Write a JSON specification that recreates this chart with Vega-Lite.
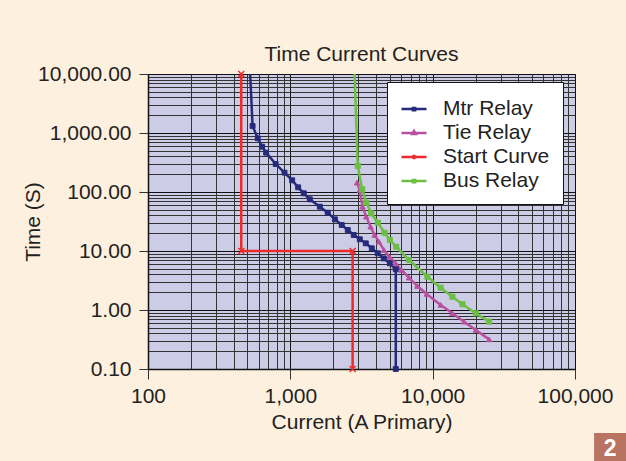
{
  "$schema": "https://vega.github.io/schema/vega-lite/v6.json",
  "width": 427,
  "height": 295,
  "autosize": {"type": "none"},
  "padding": {"left": 148, "top": 74, "right": 51, "bottom": 92},
  "background": "#FDF0DE",
  "title": {"text": "Time Current Curves", "fontSize": 21, "font": "Liberation Sans", "fontWeight": "normal", "color": "#222222", "offset": -2},
  "config": {
    "view": {"fill": "#CCCCE6", "stroke": "#555555", "strokeWidth": 1},
    "font": "Liberation Sans",
    "axis": {"labelFontSize": 21, "labelFont": "Liberation Sans"}
  },
  "data": {"values": [
    {"series": "Mtr Relay", "i": 0, "current": 522, "time": 10000},
    {"series": "Mtr Relay", "i": 1, "current": 543, "time": 1314},
    {"series": "Mtr Relay", "i": 2, "current": 590, "time": 813},
    {"series": "Mtr Relay", "i": 3, "current": 634, "time": 586},
    {"series": "Mtr Relay", "i": 4, "current": 676, "time": 464},
    {"series": "Mtr Relay", "i": 5, "current": 789, "time": 298},
    {"series": "Mtr Relay", "i": 6, "current": 910, "time": 213},
    {"series": "Mtr Relay", "i": 7, "current": 1030, "time": 158},
    {"series": "Mtr Relay", "i": 8, "current": 1135, "time": 120},
    {"series": "Mtr Relay", "i": 9, "current": 1243, "time": 95},
    {"series": "Mtr Relay", "i": 10, "current": 1370, "time": 75.2},
    {"series": "Mtr Relay", "i": 11, "current": 1611, "time": 56.4},
    {"series": "Mtr Relay", "i": 12, "current": 1832, "time": 44.6},
    {"series": "Mtr Relay", "i": 13, "current": 2057, "time": 34.4},
    {"series": "Mtr Relay", "i": 14, "current": 2298, "time": 27.6},
    {"series": "Mtr Relay", "i": 15, "current": 2532, "time": 22.7},
    {"series": "Mtr Relay", "i": 16, "current": 2790, "time": 18.7},
    {"series": "Mtr Relay", "i": 17, "current": 3076, "time": 15.8},
    {"series": "Mtr Relay", "i": 18, "current": 3390, "time": 13.5},
    {"series": "Mtr Relay", "i": 19, "current": 3735, "time": 11.1},
    {"series": "Mtr Relay", "i": 20, "current": 4110, "time": 9.14},
    {"series": "Mtr Relay", "i": 21, "current": 4536, "time": 7.5},
    {"series": "Mtr Relay", "i": 22, "current": 5000, "time": 6.18},
    {"series": "Mtr Relay", "i": 23, "current": 5505, "time": 4.9},
    {"series": "Mtr Relay", "i": 24, "current": 5505, "time": 0.1},
    {"series": "Tie Relay", "i": 0, "current": 2940, "time": 144},
    {"series": "Tie Relay", "i": 1, "current": 3076, "time": 108},
    {"series": "Tie Relay", "i": 2, "current": 3215, "time": 56.4},
    {"series": "Tie Relay", "i": 3, "current": 3412, "time": 38.2},
    {"series": "Tie Relay", "i": 4, "current": 3660, "time": 25.8},
    {"series": "Tie Relay", "i": 5, "current": 3904, "time": 18.7},
    {"series": "Tie Relay", "i": 6, "current": 4188, "time": 14.4},
    {"series": "Tie Relay", "i": 7, "current": 4543, "time": 10.4},
    {"series": "Tie Relay", "i": 8, "current": 5010, "time": 7.81},
    {"series": "Tie Relay", "i": 9, "current": 5485, "time": 6.18},
    {"series": "Tie Relay", "i": 10, "current": 6050, "time": 4.76},
    {"series": "Tie Relay", "i": 11, "current": 6815, "time": 3.53},
    {"series": "Tie Relay", "i": 12, "current": 7800, "time": 2.55},
    {"series": "Tie Relay", "i": 13, "current": 9075, "time": 1.87},
    {"series": "Tie Relay", "i": 14, "current": 11380, "time": 1.22},
    {"series": "Tie Relay", "i": 15, "current": 13760, "time": 0.88},
    {"series": "Tie Relay", "i": 16, "current": 16630, "time": 0.634},
    {"series": "Tie Relay", "i": 17, "current": 20090, "time": 0.458},
    {"series": "Tie Relay", "i": 18, "current": 24930, "time": 0.318},
    {"series": "Start Curve", "i": 0, "current": 452, "time": 10000},
    {"series": "Start Curve", "i": 1, "current": 452, "time": 10},
    {"series": "Start Curve", "i": 2, "current": 2740, "time": 10},
    {"series": "Start Curve", "i": 3, "current": 2740, "time": 0.1},
    {"series": "Bus Relay", "i": 0, "current": 2827, "time": 10000},
    {"series": "Bus Relay", "i": 1, "current": 2978, "time": 276},
    {"series": "Bus Relay", "i": 2, "current": 3199, "time": 111},
    {"series": "Bus Relay", "i": 3, "current": 3430, "time": 65.9},
    {"series": "Bus Relay", "i": 4, "current": 3700, "time": 43.5},
    {"series": "Bus Relay", "i": 5, "current": 4120, "time": 30.2},
    {"series": "Bus Relay", "i": 6, "current": 4590, "time": 20.4},
    {"series": "Bus Relay", "i": 7, "current": 5010, "time": 15.4},
    {"series": "Bus Relay", "i": 8, "current": 5550, "time": 11.8},
    {"series": "Bus Relay", "i": 9, "current": 6815, "time": 7.04},
    {"series": "Bus Relay", "i": 10, "current": 9180, "time": 3.67},
    {"series": "Bus Relay", "i": 11, "current": 11380, "time": 2.39},
    {"series": "Bus Relay", "i": 12, "current": 13760, "time": 1.68},
    {"series": "Bus Relay", "i": 13, "current": 16190, "time": 1.25},
    {"series": "Bus Relay", "i": 14, "current": 20090, "time": 0.88},
    {"series": "Bus Relay", "i": 15, "current": 24930, "time": 0.634}
  ]},
  "encoding": {
    "x": {
      "field": "current", "type": "quantitative",
      "scale": {"type": "log", "domain": [100, 100000], "nice": false},
      "axis": {
        "title": "Current (A Primary)",
        "values": [100,200,300,400,500,600,700,800,900,1000,2000,3000,4000,5000,6000,7000,8000,9000,10000,20000,30000,40000,50000,60000,70000,80000,90000,100000],
        "labelExpr": "abs(log(datum.value)/LN10 - round(log(datum.value)/LN10)) < 0.000001 ? format(datum.value, ',') : ''",
        "labelOverlap": false,
        "labelFlush": false,
        "labelFontSize": 21,
        "labelColor": "#222222",
        "labelPadding": 6,
        "titleFontSize": 21,
        "titleFontWeight": "normal",
        "titleColor": "#222222",
        "titlePadding": 5,
        "tickSize": 10,
        "tickColor": "#333333",
        "tickOpacity": {"condition": {"test": "abs(log(datum.value)/LN10 - round(log(datum.value)/LN10)) < 0.000001", "value": 1}, "value": 0},
        "domainColor": "#111111",
        "domainWidth": 1.5,
        "grid": true,
        "gridColor": {"condition": {"test": "abs(log(datum.value)/LN10 - round(log(datum.value)/LN10)) < 0.000001", "value": "#111111"}, "value": "#333333"},
        "gridOpacity": 1,
        "gridWidth": 1
      }
    },
    "y": {
      "field": "time", "type": "quantitative",
      "scale": {"type": "log", "domain": [0.1, 10000], "nice": false},
      "axis": {
        "title": "Time (S)",
        "values": [0.1,0.2,0.3,0.4,0.5,0.6,0.7,0.8,0.9,1,2,3,4,5,6,7,8,9,10,20,30,40,50,60,70,80,90,100,200,300,400,500,600,700,800,900,1000,2000,3000,4000,5000,6000,7000,8000,9000,10000],
        "labelExpr": "abs(log(datum.value)/LN10 - round(log(datum.value)/LN10)) < 0.000001 ? format(datum.value, ',.2f') : ''",
        "labelOverlap": false,
        "labelFlush": false,
        "labelFontSize": 21,
        "labelColor": "#222222",
        "labelPadding": 8,
        "titleFontSize": 21,
        "titleFontWeight": "normal",
        "titleColor": "#222222",
        "titlePadding": -6,
        "tickSize": 9,
        "tickColor": "#333333",
        "tickOpacity": {"condition": {"test": "abs(log(datum.value)/LN10 - round(log(datum.value)/LN10)) < 0.000001", "value": 1}, "value": 0},
        "domainColor": "#111111",
        "domainWidth": 1.5,
        "grid": true,
        "gridColor": {"condition": {"test": "abs(log(datum.value)/LN10 - round(log(datum.value)/LN10)) < 0.000001", "value": "#111111"}, "value": "#333333"},
        "gridOpacity": 1,
        "gridWidth": 1
      }
    }
  },
  "layer": [
    {
      "mark": {"type": "line", "strokeWidth": 2.5, "clip": true},
      "encoding": {
        "color": {
          "field": "series", "type": "nominal",
          "scale": {"domain": ["Mtr Relay", "Tie Relay", "Start Curve", "Bus Relay"], "range": ["#252B7A", "#B8509F", "#EE2A2A", "#6DBE45"]},
          "legend": {
            "title": null, "orient": "none", "legendX": 239, "legendY": 8,
            "fillColor": "#FFFFFF", "strokeColor": "#111111", "padding": 13, "rowPadding": 0,
            "labelFont": "Liberation Sans", "labelFontSize": 21, "labelColor": "#222222", "labelOffset": 15, "labelLimit": 300,
            "symbolSize": 625, "symbolStrokeWidth": 2.5, "symbolOpacity": 1
          }
        },
        "order": {"field": "i", "type": "quantitative"}
      }
    },
    {
      "transform": [{"filter": "datum.time < 0"}],
      "mark": {"type": "point", "filled": false, "strokeWidth": 2.5, "opacity": 1},
      "encoding": {
        "color": {
          "field": "series", "type": "nominal",
          "legend": {
            "title": null, "orient": "none", "legendX": 239, "legendY": 8,
            "fillColor": "#FFFFFF", "strokeColor": "#111111", "padding": 13, "rowPadding": 0,
            "labelFont": "Liberation Sans", "labelFontSize": 21, "labelColor": "#222222", "labelOffset": 15, "labelLimit": 300,
            "symbolSize": 625, "symbolStrokeWidth": 2.5, "symbolOpacity": 1
          }
        },
        "shape": {
          "field": "series", "type": "nominal",
          "scale": {"domain": ["Mtr Relay", "Tie Relay", "Start Curve", "Bus Relay"], "range": ["M-1,0H1M-0.09,-0.09H0.09V0.09H-0.09Z", "M-1,0H1M0,-0.16L0.14,0.08H-0.14Z", "M-1,0H1M-0.13,-0.13L0.13,0.13M-0.13,0.13L0.13,-0.13", "M-1,0H1M-0.09,-0.09H0.09V0.09H-0.09Z"]},
          "legend": {
            "title": null, "orient": "none", "legendX": 239, "legendY": 8,
            "fillColor": "#FFFFFF", "strokeColor": "#111111", "padding": 13, "rowPadding": 0,
            "labelFont": "Liberation Sans", "labelFontSize": 21, "labelColor": "#222222", "labelOffset": 15, "labelLimit": 300,
            "symbolSize": 625, "symbolStrokeWidth": 2.5, "symbolOpacity": 1
          }
        }
      }
    },
    {
      "transform": [{"filter": "datum.series === 'Mtr Relay' && datum.time < 10000"}],
      "mark": {"type": "point", "shape": "square", "filled": true, "size": 24, "color": "#252B7A", "stroke": "#252B7A", "strokeWidth": 1, "opacity": 1}
    },
    {
      "transform": [{"filter": "datum.series === 'Tie Relay'"}],
      "mark": {"type": "point", "shape": "triangle-up", "filled": true, "size": 28, "color": "#B8509F", "stroke": "#B8509F", "strokeWidth": 1, "opacity": 1}
    },
    {
      "transform": [{"filter": "datum.series === 'Start Curve'"}],
      "mark": {"type": "point", "shape": "M-1,-1L1,1M-1,1L1,-1", "filled": false, "size": 36, "color": "#EE2A2A", "strokeWidth": 1.5, "opacity": 1}
    },
    {
      "transform": [{"filter": "datum.series === 'Bus Relay' && datum.time < 10000"}],
      "mark": {"type": "point", "shape": "square", "filled": true, "size": 26, "color": "#6DBE45", "stroke": "#6DBE45", "strokeWidth": 1, "opacity": 1}
    },
    {
      "data": {"values": [{"badge": "2", "current": 176400, "time": 0.00476}]},
      "mark": {"type": "point", "shape": "M-1,-0.875H1V0.875H-1Z", "size": 1024, "filled": true, "color": "#B87460", "opacity": 1}
    },
    {
      "data": {"values": [{"badge": "2", "current": 176400, "time": 0.00476}]},
      "mark": {"type": "text", "fontSize": 23, "fontWeight": "bold", "font": "Liberation Sans", "color": "#FFFFFF", "align": "center", "baseline": "middle", "dy": 2},
      "encoding": {
        "text": {"field": "badge"}
      }
    }
  ]
}
